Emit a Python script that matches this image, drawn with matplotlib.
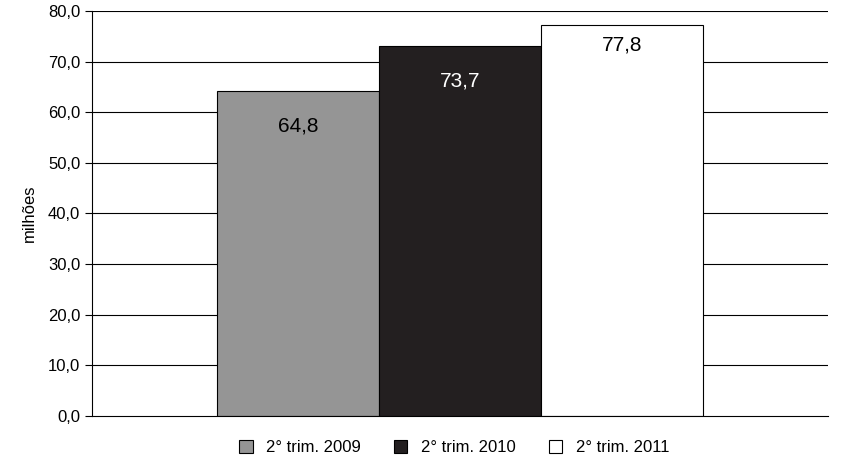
import matplotlib
matplotlib.use("Agg")
import matplotlib.pyplot as plt
from matplotlib.patches import Patch

series = ["2° trim. 2009", "2° trim. 2010", "2° trim. 2011"]
values = [64.8, 73.7, 77.8]
labels = ["64,8", "73,7", "77,8"]
colors = ["#959595", "#231f20", "#ffffff"]
label_offsets = [7.5, 7.5, 4.5]
yticks = [0, 10, 20, 30, 40, 50, 60, 70, 80]

plt.rcParams['font.family'] = ['Liberation Sans', 'DejaVu Sans']
fig = plt.figure(figsize=(8.41, 4.61), dpi=100)
ax = fig.add_axes([92/841, 1-416/461, 736/841, 405/461])

for y in yticks[1:]:
    ax.axhline(y, color="black", lw=0.8, zorder=0)
xs = range(len(values))
ax.bar(xs, [v - 0.6 for v in values], width=1.0, color=colors, edgecolor="black", lw=0.8, zorder=2)
for x, v, l, o, c in zip(xs, values, labels, label_offsets, colors):
    ax.text(x, v - o, l, ha="center", va="center", fontsize=15,
            color="white" if c == "#231f20" else "black", zorder=3)

ax.set_xlim(-1.27, 3.27)
ax.set_ylim(0, 80)
ax.set_yticks(yticks)
ax.set_yticklabels([f"{t:.1f}".replace(".", ",") for t in yticks], fontsize=12)
ax.set_xticks([])
ax.tick_params(axis="y", direction="out", length=5, width=0.8)
for s in ["top", "right"]:
    ax.spines[s].set_visible(False)
ax.spines["left"].set_linewidth(0.8)
ax.spines["bottom"].set_linewidth(0.8)
ax.set_ylabel("milhões", fontsize=12, labelpad=8)

handles = [Patch(facecolor=c, edgecolor="black", lw=0.8) for c in colors]
fig.legend(handles, series, loc="lower center", ncol=3, frameon=False, fontsize=12,
           bbox_to_anchor=(0.54, -0.02), handlelength=0.8, handleheight=0.8, columnspacing=2.0)
fig.savefig("out.png", dpi=100)
